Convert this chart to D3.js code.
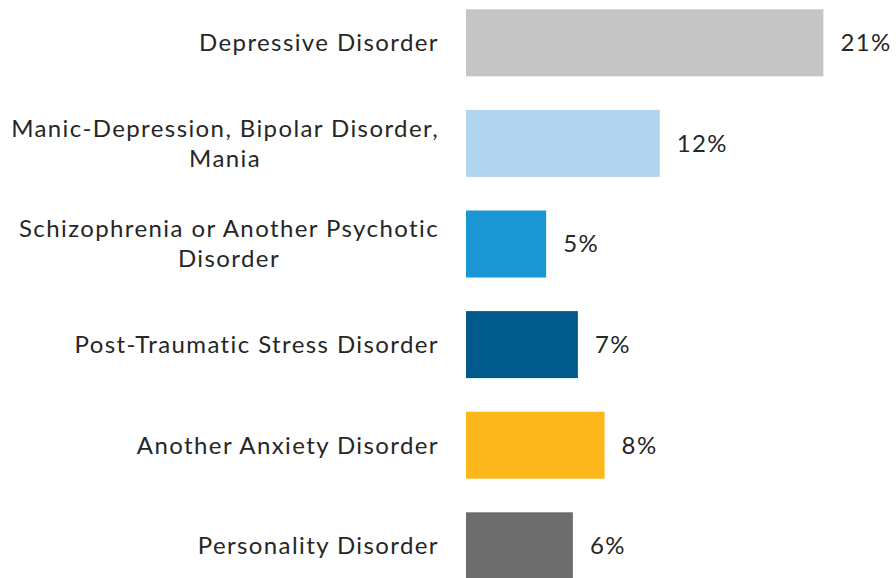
<!DOCTYPE html>
<html>
<head>
<meta charset="utf-8">
<script src="https://cdn.jsdelivr.net/npm/d3@7"></script>
<style>
  body { margin: 0; background: #fff; }
  text { font-family: Lato, "Open Sans", sans-serif; fill: #262626; font-size: 24px; letter-spacing: 1.4px; }
</style>
</head>
<body>
<svg id="chart" width="896" height="578"></svg>
<script>
// categories, top to bottom; "\n" marks a line break in the label
const categories = [
    "Depressive Disorder",
    "Manic-Depression, Bipolar Disorder,\nMania",
    "Schizophrenia or Another Psychotic\nDisorder",
    "Post-Traumatic Stress Disorder",
    "Another Anxiety Disorder",
    "Personality Disorder"
];
const values = [21.4, 11.6, 4.8, 6.7, 8.3, 6.4];
const colors = ["#c5c5c5", "#b1d5ef", "#1a96d4", "#005a8b", "#fdb71a", "#6d6d6d"];

const svg = d3.select("#chart");

const x = d3.scaleLinear().domain([0, 25]).range([466, 466 + 417.5]);
const y = d3.scaleBand().domain(categories).range([9.3, 9.3 + 570]).paddingInner(0.334).paddingOuter(0);

const fmt = v => Math.round(v) + "%";

svg.append("g")
    .selectAll("rect")
    .data(categories)
    .enter().append("rect")
        .attr("x", x(0))
        .attr("y", d => y(d))
        .attr("width", (d, i) => x(values[i]) - x(0))
        .attr("height", y.bandwidth())
        .attr("fill", (d, i) => colors[i]);

// value labels
svg.append("g")
    .selectAll("text")
    .data(categories)
    .enter().append("text")
        .attr("x", (d, i) => x(values[i]) + 17)
        .attr("y", d => y(d) + y.bandwidth() / 2)
        .attr("dy", "0.35em")
        .text((d, i) => fmt(values[i]));

// category labels: centred block, right edge next to the bars
const labels = svg.append("g")
    .selectAll("text")
    .data(categories)
    .enter().append("text")
        .attr("text-anchor", "middle");

labels.each(function(d) {
    const lines = d.split("\n");
    const t = d3.select(this);
    const cy = y(d) + y.bandwidth() / 2;
    const lh = 30;
    lines.forEach((ln, k) => {
        t.append("tspan")
            .attr("y", cy + (k - (lines.length - 1) / 2) * lh)
            .attr("dy", "0.35em")
            .text(ln);
    });
    let w = 0;
    t.selectAll("tspan").each(function() { w = Math.max(w, this.getComputedTextLength()); });
    t.selectAll("tspan").attr("x", 439 - w / 2);
});
</script>
</body>
</html>
